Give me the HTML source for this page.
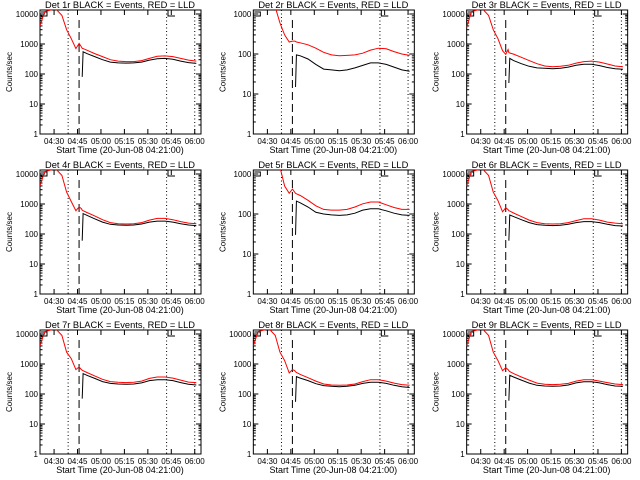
<!DOCTYPE html>
<html><head><meta charset="utf-8"><style>
html,body{margin:0;padding:0;background:#fff;}
svg{display:block;font-family:"Liberation Sans",sans-serif;}
</style></head><body>
<svg id="chart" width="640" height="480" viewBox="0 0 640 480" xmlns="http://www.w3.org/2000/svg">
<rect x="0" y="0" width="640" height="480" fill="#fff"/>
</svg>
<script>
const times = [0,3,10,14,17,20,23,25,26.5,27,27.6,30,35,40,45,50,55,60,65,70,75,80,85,90,95,100];
const N = null;
const red1 = [4000,12000,15000,9000,3000,1500,700,1050,800,720,700,620,480,380,300,270,260,260,280,330,390,400,380,330,290,270];
const blk1 = [N,N,N,N,N,N,N,N,N,80,550,480,380,300,250,235,230,235,250,290,320,330,310,270,240,225];
const red2 = [50000,30000,10000,1500,600,300,200,210,210,205,200,190,170,140,110,95,90,92,95,105,125,140,135,115,100,92];
const blk2 = [N,N,N,N,N,N,N,N,N,15,95,90,75,55,42,40,38,40,45,52,60,60,55,47,40,37];
const red3 = [3500,12000,15000,9000,3000,1500,600,450,650,520,500,460,360,280,220,185,175,180,195,230,260,270,250,215,185,175];
const blk3 = [N,N,N,N,N,N,N,N,N,50,330,280,220,180,160,155,150,155,170,195,210,210,190,165,150,145];
const red4 = [4000,12000,15000,9000,2500,1200,600,800,700,620,600,520,400,300,240,220,215,220,240,290,330,330,300,260,230,220];
const blk4 = [N,N,N,N,N,N,N,N,N,60,480,420,320,250,210,200,195,200,215,250,270,270,250,220,200,190];
const red5 = [50000,40000,20000,5000,1500,500,330,420,350,330,320,290,220,160,130,125,125,130,150,180,200,200,170,145,130,130];
const blk5 = [N,N,N,N,N,N,N,N,N,30,210,190,150,110,100,95,92,95,105,125,135,135,120,105,95,92];
const red6 = [4000,12000,15000,9000,2500,1300,550,750,650,600,580,500,380,290,240,220,215,220,240,280,320,320,290,250,230,220];
const blk6 = [N,N,N,N,N,N,N,N,N,60,430,380,300,240,205,195,190,195,210,240,260,260,240,210,190,185];
const red7 = [4000,12000,15000,9000,2500,1500,650,800,650,620,600,520,400,310,260,245,240,245,270,330,370,370,340,290,250,240];
const blk7 = [N,N,N,N,N,N,N,N,N,70,480,420,330,260,225,215,210,215,235,280,300,300,280,240,210,200];
const red8 = [4000,12000,15000,9000,2500,1300,500,650,600,550,520,450,350,270,215,200,195,200,215,260,300,300,270,230,205,195];
const blk8 = [N,N,N,N,N,N,N,N,N,55,380,340,280,220,190,180,175,180,195,225,245,245,225,195,175,165];
const red9 = [4000,12000,15000,9000,2500,1300,600,750,650,600,560,480,370,290,230,210,205,210,225,270,300,300,270,240,215,205];
const blk9 = [N,N,N,N,N,N,N,N,N,60,420,370,290,230,195,185,180,185,200,235,255,255,235,205,185,180];
const redSeries = [red1,red2,red3,red4,red5,red6,red7,red8,red9];
const blkSeries = [blk1,blk2,blk3,blk4,blk5,blk6,blk7,blk8,blk9];
const yMaxDecade = [4,3,4,4,3,4,4,4,4];
const xTickMin = [9,24,39,54,69,84,99];
const xTickLabels = ["04:30","04:45","05:00","05:15","05:30","05:45","06:00"];
const dottedMin = [18,81,99];
const dashedMin = [25];

const NS="http://www.w3.org/2000/svg";
const svg=document.getElementById('chart');
function mk(tag,attrs,parent){const e=document.createElementNS(NS,tag);for(const k in attrs)e.setAttribute(k,attrs[k]);parent.appendChild(e);return e;}
const L=40,R=201,T=10,B=134;
for(let p=0;p<9;p++){
  const col=p%3,row=Math.floor(p/3);
  const g=mk('g',{transform:`translate(${(col*213.33).toFixed(2)},${row*160})`},svg);
  
  
  const dec=yMaxDecade[p];
  const pxDec=(B-14)/dec;
  const xs=m=>L+m*1.563;
  const ys=v=>B-Math.log10(v)*pxDec;
  const clip=mk('clipPath',{id:'c'+p},g);
  mk('rect',{x:L,y:T,width:R-L,height:B-T},clip);
  const tt=mk('text',{x:45,y:8,'font-size':'9',fill:'#000',textLength:'150',lengthAdjust:'spacingAndGlyphs'},g);
  tt.textContent=`Det ${p+1}r BLACK = Events, RED = LLD`;
  
  
  const box=mk('rect',{x:L,y:T,width:R-L,height:B-T,fill:'none',stroke:'#000','stroke-width':1},g);
  
  
  for(let d=0;d<=dec;d++){
    const y=ys(Math.pow(10,d));
    mk('line',{x1:L,x2:L+5,y1:y,y2:y,stroke:'#000'},g);
    mk('line',{x1:R-5,x2:R,y1:y,y2:y,stroke:'#000'},g);
    const lab=mk('text',{x:L-2,y:y+3,'font-size':'8','text-anchor':'end',fill:'#000'},g);
    lab.textContent=String(Math.pow(10,d));
    
    
    for(let k=2;k<10;k++){
      const v=k*Math.pow(10,d); const yy=ys(v);
      if(yy<T) continue;
      mk('line',{x1:L,x2:L+2.5,y1:yy,y2:yy,stroke:'#000'},g);mk('line',{x1:R-2.5,x2:R,y1:yy,y2:yy,stroke:'#000'},g);
    }
  }
  xTickMin.forEach((m,i)=>{
    const x=xs(m);
    mk('line',{x1:x,x2:x,y1:B,y2:B-5,stroke:'#000'},g);
    mk('line',{x1:x,x2:x,y1:T,y2:T+5,stroke:'#000'},g);
    const lab=mk('text',{x:x,y:B+10,'font-size':'8','text-anchor':'middle',fill:'#000'},g);
    lab.textContent=xTickLabels[i];
    
    
  });
  const xt=mk('text',{x:120,y:B+19,'font-size':'9','text-anchor':'middle',fill:'#000'},g);
  xt.textContent='Start Time (20-Jun-08 04:21:00)';
  
  
  const yt=mk('text',{x:0,y:0,'font-size':'8','text-anchor':'middle',fill:'#000',transform:`translate(12,${(T+B)/2}) rotate(-90)`},g);
  yt.textContent='Counts/sec';
  
  
  dottedMin.forEach(m=>{const l=mk('line',{x1:xs(m),x2:xs(m),y1:T,y2:B,stroke:'#000','stroke-dasharray':'1,2.5'},g);
    });
  dashedMin.forEach(m=>{const l=mk('line',{x1:xs(m),x2:xs(m),y1:T+10,y2:B,stroke:'#000','stroke-dasharray':'8,4'},g);
    });
  mk('path',{d:`M${L+1},12 H47 V16 H${L+1}`,fill:'none',stroke:'#000'},g);
  mk('path',{d:`M168,${T} V16 H175`,fill:'none',stroke:'#000'},g);
  function path(arr){let d='';let pen=false;
    arr.forEach((v,i)=>{if(v==null){pen=false;return;}const x=xs(times[i]).toFixed(1),y=ys(v).toFixed(1);d+=(pen?'L':'M')+x+','+y;pen=true;});return d;}
  const rp=mk('path',{d:path(redSeries[p]),fill:'none',stroke:'#ff0000','stroke-width':1,'clip-path':`url(#c${p})`},g);
  
  
  const bp=mk('path',{d:path(blkSeries[p]),fill:'none',stroke:'#000','stroke-width':1,'clip-path':`url(#c${p})`},g);
  
  
}
</script>
</body></html>
